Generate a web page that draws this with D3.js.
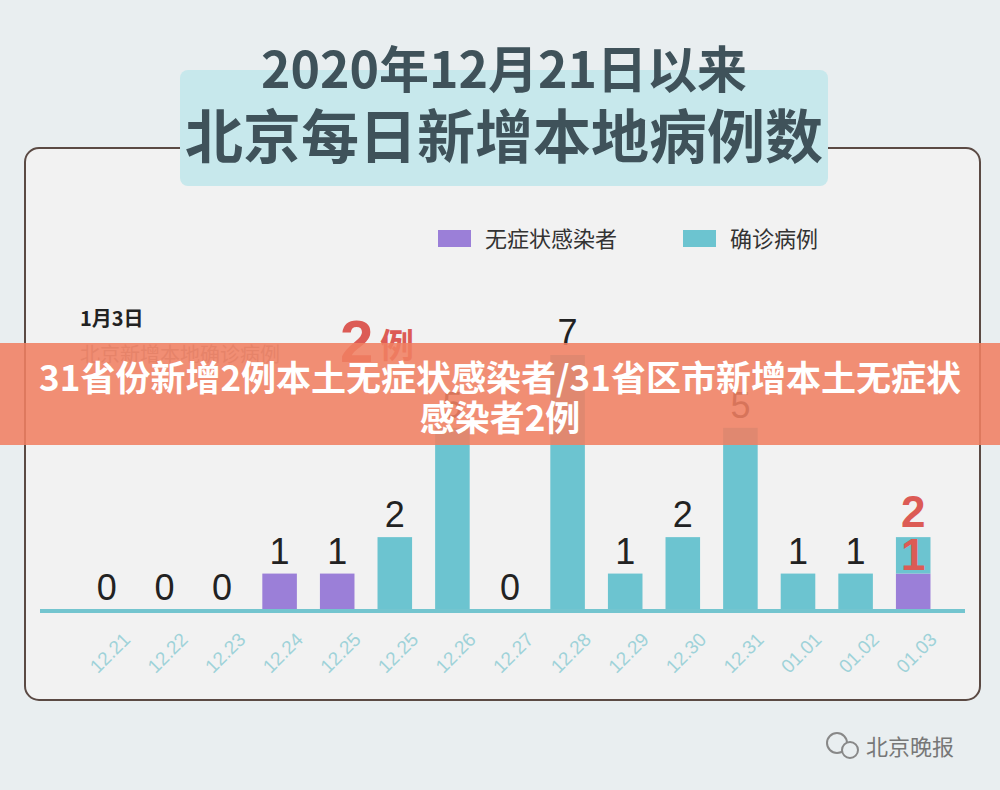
<!DOCTYPE html>
<html><head><meta charset="utf-8">
<script src="https://cdn.jsdelivr.net/npm/d3@7"></script>
<style>body{margin:0;background:#e9eef0;font-family:"Noto Sans CJK SC","Noto Sans",sans-serif}</style>
</head><body><div id="chart"></div>
<script>
const dates = ["12.21","12.22","12.23","12.24","12.25","12.25","12.26","12.27","12.28","12.29","12.30","12.31","01.01","01.02","01.03"];
const asymptomatic = [0,0,0,1,1,0,0,0,0,0,0,0,0,0,1];
const confirmed = [0,0,0,0,0,2,5,0,7,1,2,5,1,1,1];
const seriesNames = ["无症状感染者","确诊病例"];
const colors = ["#9b7fd8","#6cc4d0"];

const svg = d3.select("#chart").append("svg").attr("width",1000).attr("height",790);
svg.append("rect").attr("width",1000).attr("height",790).attr("fill","#e9eef0");

// card
svg.append("rect").attr("x",25).attr("y",148).attr("width",955).attr("height",552).attr("rx",14)
  .attr("fill","#f2f2f2").attr("stroke","#5b4a44").attr("stroke-width",2);

// title box
svg.append("rect").attr("x",180).attr("y",70).attr("width",648).attr("height",116).attr("rx",8).attr("fill","#c7e8ec");
svg.append("text").attr("x",504).attr("y",88).attr("text-anchor","middle").attr("font-size",50).attr("font-weight",700)
  .attr("fill","#3f525a").text("2020年12月21日以来");
svg.append("text").attr("x",504).attr("y",158).attr("text-anchor","middle").attr("font-size",58).attr("font-weight",700)
  .attr("fill","#3f525a").text("北京每日新增本地病例数");

// legend
const lx = [438, 683];
seriesNames.forEach((n,i)=>{
  svg.append("rect").attr("x",lx[i]).attr("y",230).attr("width",33).attr("height",17).attr("fill",colors[i]);
  svg.append("text").attr("x",lx[i]+47).attr("y",247).attr("font-size",22).attr("fill","#333").text(n);
});

const x = d3.scaleBand().domain(d3.range(dates.length)).range([78,942]).paddingInner(0.4).paddingOuter(0.2);
const y = d3.scaleLinear().domain([0,7]).range([610,355]);

const g = svg.append("g");
dates.forEach((d,i)=>{
  const a = asymptomatic[i], c = confirmed[i];
  if(a>0) g.append("rect").attr("x",x(i)).attr("width",x.bandwidth()).attr("y",y(a)).attr("height",y(0)-y(a)).attr("fill",colors[0]);
  if(c>0) g.append("rect").attr("x",x(i)).attr("width",x.bandwidth()).attr("y",y(a+c)).attr("height",y(a)-y(a+c)).attr("fill",colors[1]);
  const last = i===dates.length-1;
  g.append("text").attr("x",x(i)+x.bandwidth()/2).attr("y",y(a+c)-10).attr("text-anchor","middle")
    .attr("font-family","Liberation Sans,Arial").attr("font-size",last?44:36).attr("font-weight",last?700:400)
    .attr("fill",last?"#dc5b55":"#222").text(a+c);
  if(last) g.append("text").attr("x",x(i)+x.bandwidth()/2).attr("y",y(a)-4).attr("text-anchor","middle")
    .attr("font-family","Liberation Sans,Arial").attr("font-size",44).attr("font-weight",700).attr("fill","#dc5b55").text(a);
});

// axis
svg.append("line").attr("x1",40).attr("x2",965).attr("y1",611).attr("y2",611).attr("stroke","#74c5cf").attr("stroke-width",4);
const ax = svg.append("g").attr("transform","translate(0,611)")
  .call(d3.axisBottom(x).tickSize(0).tickFormat(i=>dates[i]));
ax.select(".domain").remove();
ax.selectAll("text").attr("font-size",19).attr("fill","#9fd2d9").attr("font-family","Liberation Sans,Arial")
  .attr("text-anchor","end").attr("transform","translate(13,18) rotate(-45)");

// annotation
svg.append("text").attr("x",80).attr("y",326).attr("font-size",20).attr("font-weight",700).attr("fill","#222").text("1月3日");
svg.append("text").attr("x",80).attr("y",362).attr("font-size",20).attr("fill","#999").text("北京新增本地确诊病例");
svg.append("text").attr("x",340).attr("y",362).attr("font-size",60).attr("font-weight",700).attr("font-family","Liberation Sans,Arial").attr("fill","#dc5b55").text("2");
svg.append("text").attr("x",380).attr("y",358).attr("font-size",34).attr("font-weight",700).attr("fill","#dc5b55").text("例");

// banner
svg.append("rect").attr("x",0).attr("y",343).attr("width",1000).attr("height",102).attr("fill","#f07f62").attr("opacity",0.88);
svg.append("text").attr("x",500).attr("y",391).attr("text-anchor","middle").attr("font-size",35).attr("font-weight",700).attr("fill","#fff")
  .text("31省份新增2例本土无症状感染者/31省区市新增本土无症状");
svg.append("text").attr("x",500).attr("y",431).attr("text-anchor","middle").attr("font-size",35).attr("font-weight",700).attr("fill","#fff")
  .text("感染者2例");

// watermark
svg.append("circle").attr("cx",837).attr("cy",743).attr("r",10).attr("fill","none").attr("stroke","#888").attr("stroke-width",2);
svg.append("circle").attr("cx",850).attr("cy",750).attr("r",8).attr("fill","#e9eef0").attr("stroke","#888").attr("stroke-width",2);
svg.append("text").attr("x",866).attr("y",755).attr("font-size",22).attr("fill","#777").text("北京晚报");
</script></body></html>
